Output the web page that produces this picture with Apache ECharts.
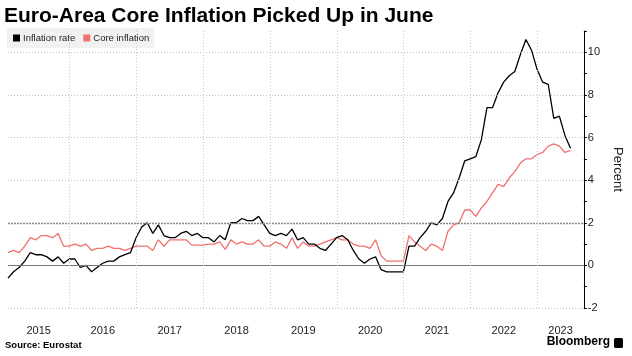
<!DOCTYPE html>
<html><head><meta charset="utf-8">
<script src="https://cdn.jsdelivr.net/npm/echarts@6/dist/echarts.min.js"></script>
<style>html,body{margin:0;padding:0;background:#fff}#c{width:632px;height:356px}</style>
</head><body><div id="c"></div>
<script>
// ---- data ----
const chartTitle = 'Euro-Area Core Inflation Picked Up in June';
const sourceText = 'Source: Eurostat';
const brandText = 'Bloomberg';
const seriesNames = ['Inflation rate', 'Core inflation'];
const yearLabels = ['2015','2016','2017','2018','2019','2020','2021','2022','2023'];
const yTickLabels = [-2, 0, 2, 4, 6, 8, 10];
const yAxisName = 'Percent';
// Monthly, Jan 2015 .. Jun 2023
const inflationRate = [
  -0.6,-0.3,-0.1, 0.2, 0.6, 0.5, 0.5, 0.4, 0.2, 0.4, 0.1, 0.3,
   0.3,-0.1, 0.0,-0.3,-0.1, 0.1, 0.2, 0.2, 0.4, 0.5, 0.6, 1.3,
   1.8, 2.0, 1.5, 1.9, 1.4, 1.3, 1.3, 1.5, 1.6, 1.4, 1.5, 1.3,
   1.3, 1.1, 1.4, 1.2, 2.0, 2.0, 2.2, 2.1, 2.1, 2.3, 1.9, 1.5,
   1.4, 1.5, 1.4, 1.7, 1.2, 1.3, 1.0, 1.0, 0.8, 0.7, 1.0, 1.3,
   1.4, 1.2, 0.7, 0.3, 0.1, 0.3, 0.4,-0.2,-0.3,-0.3,-0.3,-0.3,
   0.9, 0.9, 1.3, 1.6, 2.0, 1.9, 2.2, 3.0, 3.4, 4.1, 4.9, 5.0,
   5.1, 5.9, 7.4, 7.4, 8.1, 8.6, 8.9, 9.1, 9.9,10.6,10.1, 9.2,
   8.6, 8.5, 6.9, 7.0, 6.1, 5.5
];
const coreInflation = [
   0.6, 0.7, 0.6, 0.9, 1.3, 1.2, 1.4, 1.4, 1.3, 1.5, 0.9, 0.9,
   1.0, 0.9, 1.0, 0.7, 0.8, 0.8, 0.9, 0.8, 0.8, 0.7, 0.8, 0.9,
   0.9, 0.9, 0.7, 1.2, 0.9, 1.2, 1.2, 1.2, 1.2, 0.95,0.95,0.95,
   1.0, 1.0, 1.1, 0.75,1.2, 1.0, 1.1, 1.0, 1.0, 1.2, 0.9, 0.9,
   1.1, 1.0, 0.8, 1.3, 0.8, 1.1, 0.9, 0.9, 1.0, 1.1, 1.2, 1.3,
   1.2, 1.2, 1.0, 0.9, 0.9, 0.8, 1.2, 0.45,0.2, 0.2, 0.2, 0.2,
   1.4, 1.1, 0.9, 0.7, 1.0, 0.9, 0.7, 1.6, 1.9, 2.0, 2.6, 2.6,
   2.3, 2.7, 3.0, 3.4, 3.8, 3.7, 4.1, 4.4, 4.8, 5.0, 5.0, 5.2,
   5.3, 5.6, 5.7, 5.6, 5.3, 5.4
];

// ---- build ----
const FONT = '"Liberation Sans", Arial, sans-serif';
const xMax = inflationRate.length + 1.4;           // axis end (months after Jan 2015)
const toPairs = arr => arr.map((v, i) => [i, v]);   // month index -> value
const yearStart = k => 12 * k - 1 + 0.03;           // Jan 1 (points are month-end)
const yearBounds = yearLabels.slice(1).map((_, k) => yearStart(k + 1));
const yearCenters = yearLabels.map((_, k) => {
  const a = Math.max(0, yearStart(k)), b = Math.min(xMax, yearStart(k + 1));
  return (a + b) / 2;
});
const yearOf = v => yearLabels[yearCenters.reduce((best, c, i) =>
  Math.abs(c - v) < Math.abs(yearCenters[best] - v) ? i : best, 0)];

const hLineStyle = v => v === 0 ? {type:'solid', color:'#777', width:1}
  : v === 2 ? {type:[2,1], color:'#8a8a8a', width:1.3}
  : {type:[1,2], color:'#c4c4c4', width:1};

const gridMarks = [
  ...yTickLabels.map(v => ({yAxis: v, lineStyle: hLineStyle(v)})),
  ...yearBounds.map(v => ({xAxis: v, lineStyle: {type: [1,2], color: '#c8c8c8', width: 1}}))
];

const chart = echarts.init(document.getElementById('c'), null, {renderer:'canvas'});
chart.setOption({
  animation: false,
  textStyle: {fontFamily: FONT},
  title: {text: chartTitle, left: 4, top: 6, padding: 0,
    textStyle: {fontSize: 21, fontWeight: 'bold', color: '#000', fontFamily: FONT}},
  legend: {left: 7, top: 28, data: seriesNames, icon: 'rect', itemWidth: 7, itemHeight: 7,
    itemGap: 8, backgroundColor: '#f1f1f1', padding: [5, 5, 5, 6],
    textStyle: {fontSize: 9.5, color: '#222', fontFamily: FONT, padding: [0, 0, 0, -2]}},
  grid: {left: 8, right: 40, top: 31, bottom: 48, containLabel: false},
  xAxis: {type: 'value', min: 0, max: xMax,
    axisLine: {show: false}, axisTick: {show: false}, splitLine: {show: false},
    axisLabel: {customValues: yearCenters, formatter: v => yearOf(v),
      color: '#222', fontSize: 11, margin: 17, fontFamily: FONT}},
  yAxis: {type: 'value', position: 'right', min: -2, max: 11, interval: 1,
    axisLine: {show: true, onZero: false, lineStyle: {color: '#000', width: 1}},
    axisTick: {show: true, inside: false, length: 3, lineStyle: {color: '#000'}},
    axisLabel: {formatter: v => yTickLabels.includes(v) ? String(v) : '',
      color: '#222', fontSize: 11, margin: 4, fontFamily: FONT},
    splitLine: {show: false},
    name: yAxisName, nameLocation: 'middle', nameRotate: -90, nameGap: 20,
    nameTextStyle: {fontSize: 13, color: '#222', fontFamily: FONT}},
  series: [
    {type: 'line', name: seriesNames[1], data: toPairs(coreInflation), z: 3,
      showSymbol: false, lineStyle: {color: '#f07070', width: 1.3}, itemStyle: {color: '#f07070'},
      markLine: {silent: true, symbol: 'none', label: {show: false}, animation: false,
        data: gridMarks}},
    {type: 'line', name: seriesNames[0], data: toPairs(inflationRate), z: 4,
      showSymbol: false, lineStyle: {color: '#000', width: 1.3}, itemStyle: {color: '#000'}}
  ],
  graphic: [
    {type: 'text', left: 5, top: 340, style: {text: sourceText, font: 'bold 9.5px ' + FONT, fill: '#000'}},
    {type: 'text', right: 22, top: 336, style: {text: brandText, font: 'bold 12px ' + FONT, fill: '#000'}},
    {type: 'rect', right: 9, top: 338, shape: {width: 9, height: 10, r: 1.5}, style: {fill: '#000'}}
  ]
});
</script></body></html>
